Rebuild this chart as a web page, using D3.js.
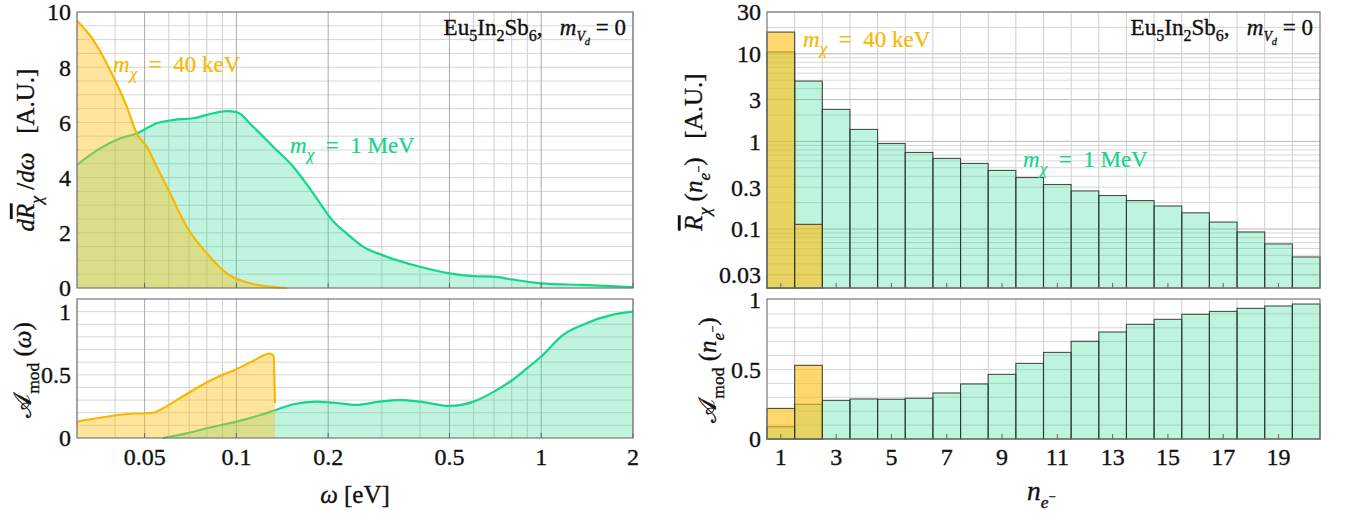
<!DOCTYPE html>
<html><head><meta charset="utf-8">
<script src="https://cdn.jsdelivr.net/npm/d3@7"></script>
<style>
html,body{margin:0;padding:0;background:#fff;}
svg{display:block;}
svg text{font-family:"Liberation Serif","DejaVu Serif","Noto Serif",serif;fill:#111;stroke:#111;stroke-width:0.35px;white-space:pre;}
</style></head>
<body>
<script>
// ---------- DATA ----------
// Left: differential rate vs omega [eV]
const omegaRate40 = [0.03,0.0339,0.0385,0.0437,0.0471,0.0508,0.0548,0.0606,0.0687,0.0799,0.0929,0.111,0.128,0.146];
const rate40      = [9.68,8.99,7.9,6.57,5.6,5.12,4.39,3.43,2.22,1.26,0.53,0.17,0.05,0.0];
const omegaRate1  = [0.03,0.0357,0.0415,0.0471,0.0548,0.0621,0.0722,0.0839,0.0929,0.1002,0.1135,0.132,0.1537,0.1786,0.2076,0.2298,0.26,0.3,0.4,0.5,0.6,0.7,0.8,1.0,1.37,2.0];
const rate1       = [4.46,5.06,5.42,5.6,5.97,6.09,6.15,6.33,6.41,6.37,5.84,5.12,4.39,3.43,2.42,1.98,1.5,1.2,0.77,0.53,0.43,0.41,0.31,0.17,0.11,0.03];
// Left: modulation amplitude vs omega
const omegaMod40  = [0.03,0.0357,0.0437,0.05,0.0533,0.0575,0.0637,0.0759,0.0882,0.1,0.1135,0.1287,0.1325,0.1338];
const amod40      = [0.13,0.16,0.19,0.196,0.20,0.236,0.30,0.41,0.49,0.545,0.61,0.667,0.65,0.275];
const omegaMod1   = [0.0575,0.0687,0.0799,0.1,0.119,0.134,0.1537,0.183,0.2076,0.248,0.295,0.344,0.4,0.5,0.6,0.7,0.8,0.9,1.0,1.18,1.37,1.72,2.0];
const amod1       = [0,0.037,0.077,0.13,0.18,0.22,0.267,0.288,0.28,0.262,0.288,0.30,0.288,0.254,0.288,0.367,0.455,0.553,0.645,0.817,0.897,0.976,1.0];
// Right: binned rates vs number of electrons
const nElectrons  = [1,2,3,4,5,6,7,8,9,10,11,12,13,14,15,16,17,18,19,20];
const rateBar1    = [10.5,4.88,2.32,1.37,0.946,0.748,0.639,0.56,0.466,0.387,0.322,0.272,0.241,0.211,0.183,0.153,0.12,0.0925,0.0675,0.0479];
const nElectrons40= [1,2];
const rateBar40   = [17.7,0.113];
const amodBar1    = [0.088,0.25,0.278,0.288,0.286,0.293,0.331,0.396,0.465,0.544,0.623,0.703,0.770,0.825,0.861,0.897,0.918,0.940,0.957,0.971];
const amodBar40   = [0.22,0.53];
// Tick labels
const omegaTicks  = [0.05,0.1,0.2,0.5,1,2];
const omegaTickLabels = ["0.05","0.1","0.2","0.5","1","2"];
const rateTicks   = [0,2,4,6,8,10];
const modTicks    = [0,0.5,1];
const modTickLabels = ["0","0.5","1"];
const barRateTicks = [0.03,0.1,0.3,1,3,10,30];
const barRateTickLabels = ["0.03","0.1","0.3","1","3","10","30"];
const nTicks      = [1,3,5,7,9,11,13,15,17,19];

// ---------- STYLE ----------
const W = 1348, H = 517;
const ORANGE = "#f8b800", GREEN = "#12d68a";
const FS = 24;
const FONT = '"Liberation Serif","DejaVu Serif","Noto Serif",serif';

const svg = d3.select("body").append("svg").attr("width", W).attr("height", H)
  .attr("font-family", FONT);

// rich text helper: segs = [{t, it, shift (em, +down), sc}]
function rich(g, x, y, segs, opt = {}) {
  const t = g.append("text").attr("x", x).attr("y", y).attr("font-family", FONT)
    .attr("font-size", opt.fs || FS).attr("text-anchor", opt.anchor || "start");
  if (opt.fill) t.style("fill", opt.fill).style("stroke", opt.fill).style("stroke-width", "0.2px");
  if (opt.transform) t.attr("transform", opt.transform);
  let cur = 0;
  const base = opt.fs || FS;
  segs.forEach(s => {
    const sh = (s.shift || 0) * base;
    const ts = t.append("tspan").text(s.t).attr("dy", sh - cur);
    cur = sh;
    if (s.it) ts.attr("font-style", "italic");
    if (s.sc) ts.attr("font-size", base * s.sc);
    if (s.over) ts.attr("text-decoration", "overline");
  });
  return t;
}

// ---------- LEFT PANELS ----------
const xL = d3.scaleLog().domain([0.03, 2]).range([77, 633]);
const yRate = d3.scaleLinear().domain([0, 10]).range([288, 12]);
const yMod = d3.scaleLinear().domain([0, 1.1]).range([438, 299]);

const omegaMinor = [0.03,0.04,0.06,0.07,0.08,0.09,0.3,0.4,0.6,0.7,0.8,0.9];

function leftGrid(y, hvals) {
  const g = svg.append("g");
  g.selectAll(".h").data(hvals).join("line")
    .attr("x1", xL.range()[0]).attr("x2", xL.range()[1])
    .attr("y1", d => y(d)).attr("y2", d => y(d))
    .attr("stroke", "#d6d6d6").attr("stroke-width", 1);
  g.selectAll(".vm").data(omegaMinor).join("line")
    .attr("x1", d => xL(d)).attr("x2", d => xL(d))
    .attr("y1", y.range()[0]).attr("y2", y.range()[1])
    .attr("stroke", "#cfcfcf").attr("stroke-width", 1);
  g.selectAll(".vM").data(omegaTicks).join("line")
    .attr("x1", d => xL(d)).attr("x2", d => xL(d))
    .attr("y1", y.range()[0]).attr("y2", y.range()[1])
    .attr("stroke", "#a9a9a9").attr("stroke-width", 1);
}
leftGrid(yRate, d3.range(0.5, 10, 0.5));
leftGrid(yMod, d3.range(0.1, 1.1, 0.1));

const GF = "rgba(30,215,140,0.28)", OF = "rgba(255,190,20,0.42)";
function curveSet(xs, ys, y, fill, stroke) {
  const pts = xs.map((x, i) => [x, ys[i]]);
  const area = d3.area().x(d => xL(d[0])).y0(y(0)).y1(d => y(d[1])).curve(d3.curveMonotoneX);
  const line = d3.line().x(d => xL(d[0])).y(d => y(d[1])).curve(d3.curveMonotoneX);
  return {pts, area, line, fill, stroke};
}
const top1 = curveSet(omegaRate1, rate1, yRate, GF, GREEN);
const top40 = curveSet(omegaRate40, rate40, yRate, OF, ORANGE);
const bot1 = curveSet(omegaMod1, amod1, yMod, GF, GREEN);
const bot40 = curveSet(omegaMod40, amod40, yMod, OF, ORANGE);
[top1, top40, bot1, bot40].forEach(c => {
  svg.append("path").datum(c.pts).attr("d", c.area).attr("fill", c.fill);
  svg.append("path").datum(c.pts).attr("d", c.line).attr("fill", "none")
    .attr("stroke", c.stroke).attr("stroke-width", 2.2);
});

function frame(x0, x1, y0, y1) {
  svg.append("rect").attr("x", x0).attr("y", y1).attr("width", x1 - x0).attr("height", y0 - y1)
    .attr("fill", "none").attr("stroke", "#777").attr("stroke-width", 1.2);
}
frame(77, 633, 288, 12);
frame(77, 633, 438, 299);

[[yRate], [yMod]].forEach(([y]) => {
  svg.append("g").selectAll("line").data(omegaTicks).join("line")
    .attr("x1", d => xL(d)).attr("x2", d => xL(d))
    .attr("y1", y.range()[0]).attr("y2", y.range()[0] - 5)
    .attr("stroke", "#666");
});

svg.append("g").selectAll("text").data(rateTicks).join("text")
  .attr("x", 71).attr("y", d => yRate(d)).attr("dy", "0.35em").attr("font-family", FONT)
  .attr("text-anchor", "end").attr("font-size", FS).text(d => d);
svg.append("g").selectAll("text").data(modTicks).join("text")
  .attr("x", 71).attr("y", d => yMod(d)).attr("dy", "0.35em").attr("font-family", FONT)
  .attr("text-anchor", "end").attr("font-size", FS).text((d, i) => modTickLabels[i]);
svg.append("g").selectAll("text").data(omegaTicks).join("text")
  .attr("x", d => xL(d)).attr("y", 465).attr("font-family", FONT)
  .attr("text-anchor", "middle").attr("font-size", FS).text((d, i) => omegaTickLabels[i]);

rich(svg, 355, 503, [{t: "ω", it: true}, {t: " [eV]"}], {anchor: "middle", fs: 25});
rich(svg, 0, 0, [
  {t: "d", it: true}, {t: "R", it: true, over: true}, {t: "χ", it: true, shift: 0.3, sc: 0.7},
  {t: " /", shift: 0}, {t: "d", it: true}, {t: "ω", it: true}, {t: "   [A.U.]"}
], {anchor: "middle", fs: 25, transform: "translate(34,150) rotate(-90)"});
rich(svg, 0, 0, [
  {t: "𝒜"}, {t: "mod", shift: 0.3, sc: 0.7}, {t: " (", shift: 0}, {t: "ω", it: true}, {t: ")"}
], {anchor: "middle", fs: 25, transform: "translate(31,370) rotate(-90)"});

function massLabel(x, y, val, color) {
  rich(svg, x, y, [{t: "m", it: true}, {t: "χ", it: true, shift: 0.3, sc: 0.75}, {t: "  =  " + val, shift: 0}],
    {fs: 23, fill: color});
}
massLabel(113, 72, "40 keV", ORANGE);
massLabel(290, 153, "1 MeV", GREEN);

function title(xr, y) {
  rich(svg, xr, y, [
    {t: "Eu"}, {t: "5", shift: 0.25, sc: 0.7}, {t: "In", shift: 0}, {t: "2", shift: 0.25, sc: 0.7},
    {t: "Sb", shift: 0}, {t: "6", shift: 0.25, sc: 0.7}, {t: ",   ", shift: 0},
    {t: "m", it: true}, {t: "V", it: true, shift: 0.25, sc: 0.6}, {t: "d", it: true, shift: 0.45, sc: 0.45},
    {t: " = 0", shift: 0}
  ], {anchor: "end", fs: 23});
}
title(626, 35);

// ---------- RIGHT PANELS ----------
const xR = d3.scaleLinear().domain([0.5, 20.5]).range([767, 1320]);
const yBar = d3.scaleLog().domain([0.0212, 30]).range([288, 12]);
const yBarMod = d3.scaleLinear().domain([0, 1]).range([439, 300]);

const logGrid = [];
[-2, -1, 0, 1].forEach(e => d3.range(1, 10).forEach(k => {
  const v = k * Math.pow(10, e);
  if (v >= 0.0212 && v <= 30) logGrid.push(v);
}));
const halfN = d3.range(1.5, 20, 1);
function rightGrid(y, hvals, majors) {
  const g = svg.append("g");
  g.selectAll(".h").data(hvals).join("line")
    .attr("x1", xR.range()[0]).attr("x2", xR.range()[1])
    .attr("y1", d => y(d)).attr("y2", d => y(d))
    .attr("stroke", d => majors.includes(d) ? "#b8b8b8" : "#d8d8d8").attr("stroke-width", 1);
  g.selectAll(".v").data(halfN).join("line")
    .attr("x1", d => xR(d)).attr("x2", d => xR(d))
    .attr("y1", y.range()[0]).attr("y2", y.range()[1])
    .attr("stroke", "#cfcfcf").attr("stroke-width", 1);
}
rightGrid(yBar, logGrid, [0.03, 0.1, 0.3, 1, 3, 10]);
rightGrid(yBarMod, d3.range(0.1, 1.0, 0.1), []);

const BG = "rgba(30,215,140,0.29)", BO = "rgba(255,190,20,0.62)";
function bars(ns, vals, y, fill) {
  svg.append("g").selectAll("rect").data(ns.map((n, i) => [n, vals[i]])).join("rect")
    .attr("x", d => xR(d[0] - 0.5)).attr("width", d => xR(d[0] + 0.5) - xR(d[0] - 0.5))
    .attr("y", d => y(d[1])).attr("height", d => y.range()[0] - y(d[1]))
    .attr("fill", fill).attr("stroke", "rgba(40,50,45,0.85)").attr("stroke-width", 1.1);
}
bars(nElectrons, rateBar1, yBar, BG);
bars(nElectrons40, rateBar40, yBar, BO);
bars(nElectrons, amodBar1, yBarMod, BG);
bars(nElectrons40, amodBar40, yBarMod, BO);

frame(767, 1320, 288, 12);
frame(767, 1320, 439, 299);
[[yBar], [yBarMod]].forEach(([y]) => {
  svg.append("g").selectAll("line").data(nTicks).join("line")
    .attr("x1", d => xR(d)).attr("x2", d => xR(d))
    .attr("y1", y.range()[0]).attr("y2", y.range()[0] - 5)
    .attr("stroke", "#666");
});

svg.append("g").selectAll("text").data(barRateTicks).join("text")
  .attr("x", 761).attr("y", d => yBar(d)).attr("dy", "0.35em").attr("font-family", FONT)
  .attr("text-anchor", "end").attr("font-size", FS).text((d, i) => barRateTickLabels[i]);
svg.append("g").selectAll("text").data(modTicks).join("text")
  .attr("x", 761).attr("y", d => yBarMod(d)).attr("dy", "0.35em").attr("font-family", FONT)
  .attr("text-anchor", "end").attr("font-size", FS).text((d, i) => modTickLabels[i]);
svg.append("g").selectAll("text").data(nTicks).join("text")
  .attr("x", d => xR(d)).attr("y", 465).attr("font-family", FONT)
  .attr("text-anchor", "middle").attr("font-size", FS).text(d => d);

rich(svg, 1027, 500, [{t: "n", it: true, sc: 1.1}, {t: "e", it: true, shift: 0.3, sc: 0.7}, {t: "−", shift: 0.05, sc: 0.5}],
  {anchor: "start", fs: 25});
rich(svg, 0, 0, [
  {t: "R", it: true, over: true}, {t: "χ", it: true, shift: 0.3, sc: 0.7}, {t: " (", shift: 0},
  {t: "n", it: true}, {t: "e", it: true, shift: 0.3, sc: 0.7}, {t: "−", shift: 0.05, sc: 0.5},
  {t: ")", shift: 0}, {t: "   [A.U.]"}
], {anchor: "middle", fs: 25, transform: "translate(702,152) rotate(-90)"});
rich(svg, 0, 0, [
  {t: "𝒜"}, {t: "mod", shift: 0.3, sc: 0.7}, {t: " (", shift: 0},
  {t: "n", it: true}, {t: "e", it: true, shift: 0.3, sc: 0.7}, {t: "−", shift: 0.05, sc: 0.5},
  {t: ")", shift: 0}
], {anchor: "middle", fs: 25, transform: "translate(716,370) rotate(-90)"});

massLabel(803, 47, "40 keV", ORANGE);
massLabel(1023, 167, "1 MeV", GREEN);
title(1313, 35);
</script>
</body></html>
